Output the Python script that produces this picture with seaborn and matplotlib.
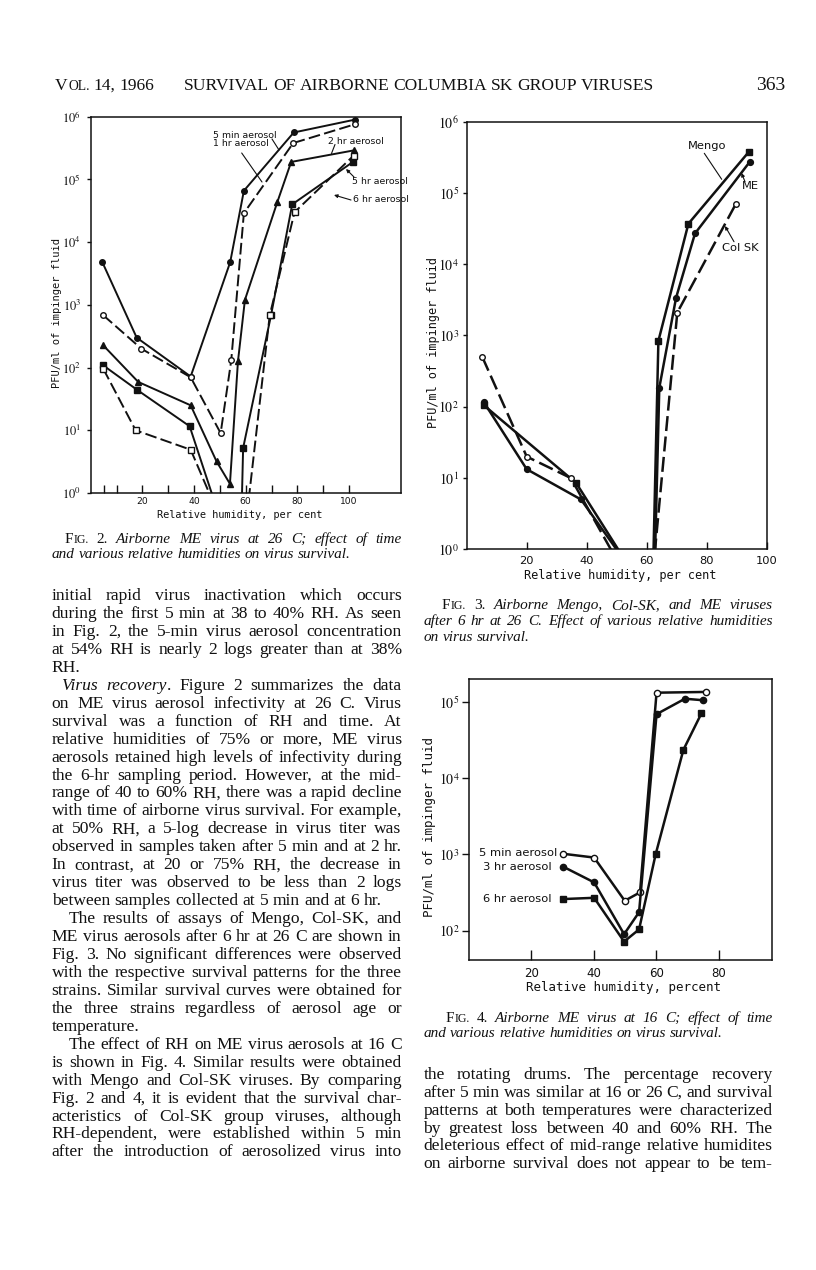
import matplotlib
matplotlib.use("Agg")
import matplotlib.pyplot as plt
import seaborn as sns
from matplotlib import font_manager
from matplotlib.font_manager import FontProperties
from matplotlib.ticker import FixedLocator, FixedFormatter, NullLocator

W, H = 816, 1270
INK = "#111111"

# ---------------- Fig. 2: ME virus at 26 C ----------------
fig2_rh_5min = [4.5, 17.8, 38.7, 54.0, 59.3, 78.6, 102.4]
fig2_pfu_5min = [4800, 300, 72, 4800, 66000, 5.6e5, 9.0e5]
fig2_rh_1hr = [4.9, 19.6, 38.7, 50.3, 54.4, 59.3, 78.4, 102.4]
fig2_pfu_1hr = [680, 200, 70, 9, 130, 29000, 3.8e5, 7.6e5]
fig2_rh_2hr = [4.9, 18.4, 38.7, 48.7, 53.9, 57.0, 59.7, 72.2, 77.6, 101.8]
fig2_pfu_2hr = [225, 59, 25, 3.2, 1.4, 125, 1200, 43000, 1.9e5, 2.9e5]
fig2_rh_5hr = [4.9, 18.0, 38.3, 50.0, 58.0, 59.0, 69.8, 78.0, 101.5]
fig2_pfu_5hr = [108, 44, 11.6, 0.4, 0.1, 5.2, 680, 40000, 1.9e5]
fig2_rh_6hr = [4.9, 17.4, 38.7, 50.0, 60.0, 69.3, 78.9, 101.8]
fig2_pfu_6hr = [95, 10, 4.9, 0.4, 0.3, 680, 30000, 2.4e5]
fig2_xticks = [5, 10, 20, 30, 40, 50, 60, 70, 80, 90, 100]
fig2_xticklabels = ["", "", "20", "", "40", "", "60", "", "80", "", "100"]

# ---------------- Fig. 3: Mengo, Col-SK, ME after 6 hr at 26 C ----------------
fig3_rh_mengo = [5.6, 36.5, 55.0, 62.0, 63.9, 73.9, 94.1]
fig3_pfu_mengo = [106, 8.5, 0.5, 0.3, 840, 37000, 3.8e5]
fig3_rh_me = [5.6, 20.0, 38.1, 55.0, 62.5, 64.2, 69.8, 76.1, 94.4]
fig3_pfu_me = [118, 13.3, 5.0, 0.5, 0.3, 185, 3400, 27000, 2.75e5]
fig3_rh_colsk = [5.2, 20.0, 34.7, 55.0, 62.0, 70.2, 89.7]
fig3_pfu_colsk = [500, 20, 10, 0.3, 0.44, 2100, 70000]
fig3_xticks = [20, 40, 60, 80, 100]

# ---------------- Fig. 4: ME virus at 16 C ----------------
fig4_rh_5min = [30.2, 40.1, 49.9, 54.8, 60.1, 75.8]
fig4_pfu_5min = [1020, 910, 247, 318, 1.32e5, 1.35e5]
fig4_rh_3hr = [30.2, 40.1, 49.7, 54.5, 60.1, 69.2, 75.1]
fig4_pfu_3hr = [690, 430, 90, 175, 69000, 1.1e5, 1.05e5]
fig4_rh_6hr = [30.2, 40.1, 49.7, 54.5, 59.8, 68.7, 74.5]
fig4_pfu_6hr = [260, 270, 72, 104, 1000, 23500, 71000]
fig4_xticks = [20, 40, 60, 80]

# ---------------- page text ----------------
header_left = "^^VOL. 14, 1966"
header_title = "SURVIVAL OF AIRBORNE COLUMBIA SK GROUP VIRUSES"
header_page = "363"

caption2 = ["^^FIG. ^2. Airborne ME virus at 26 C; effect of time",
            "and various relative humidities on virus survival."]
caption3 = ["^^FIG. ^3. Airborne Mengo, Col-SK, and ME viruses",
            "after 6 hr at 26 C. Effect of various relative humidities",
            "on virus survival."]
caption4 = ["^^FIG. ^4. Airborne ME virus at 16 C; effect of time",
            "and various relative humidities on virus survival."]

# (text, indent px, justified)
left_body = [
    ("initial rapid virus inactivation which occurs", 0, True),
    ("during the first 5 min at 38 to 40% RH. As seen", 0, True),
    ("in Fig. 2, the 5-min virus aerosol concentration", 0, True),
    ("at 54% RH is nearly 2 logs greater than at 38%", 0, True),
    ("RH.", 0, False),
    ("/Virus/ /recovery/. Figure 2 summarizes the data", 9, True),
    ("on ME virus aerosol infectivity at 26 C. Virus", 0, True),
    ("survival was a function of RH and time. At", 0, True),
    ("relative humidities of 75% or more, ME virus", 0, True),
    ("aerosols retained high levels of infectivity during", 0, True),
    ("the 6-hr sampling period. However, at the mid-", 0, True),
    ("range of 40 to 60% RH, there was a rapid decline", 0, True),
    ("with time of airborne virus survival. For example,", 0, True),
    ("at 50% RH, a 5-log decrease in virus titer was", 0, True),
    ("observed in samples taken after 5 min and at 2 hr.", 0, True),
    ("In contrast, at 20 or 75% RH, the decrease in", 0, True),
    ("virus titer was observed to be less than 2 logs", 0, True),
    ("between samples collected at 5 min and at 6 hr.", 0, False),
    ("The results of assays of Mengo, Col-SK, and", 17, True),
    ("ME virus aerosols after 6 hr at 26 C are shown in", 0, True),
    ("Fig. 3. No significant differences were observed", 0, True),
    ("with the respective survival patterns for the three", 0, True),
    ("strains. Similar survival curves were obtained for", 0, True),
    ("the three strains regardless of aerosol age or", 0, True),
    ("temperature.", 0, False),
    ("The effect of RH on ME virus aerosols at 16 C", 17, True),
    ("is shown in Fig. 4. Similar results were obtained", 0, True),
    ("with Mengo and Col-SK viruses. By comparing", 0, True),
    ("Fig. 2 and 4, it is evident that the survival char-", 0, True),
    ("acteristics of Col-SK group viruses, although", 0, True),
    ("RH-dependent, were established within 5 min", 0, True),
    ("after the introduction of aerosolized virus into", 0, True),
]
right_body = [
    ("the rotating drums. The percentage recovery", 0, True),
    ("after 5 min was similar at 16 or 26 C, and survival", 0, True),
    ("patterns at both temperatures were characterized", 0, True),
    ("by greatest loss between 40 and 60% RH. The", 0, True),
    ("deleterious effect of mid-range relative humidites", 0, True),
    ("on airborne survival does not appear to be tem-", 0, True),
]


def has_font(name):
    try:
        font_manager.findfont(FontProperties(family=name), fallback_to_default=False)
        return True
    except ValueError:
        return False


sns.set_theme(style="ticks")
plt.rcParams["font.family"] = ["DejaVu Sans"]
plt.rcParams["mathtext.fontset"] = "stix"
plt.rcParams["axes.linewidth"] = 1.1
plt.rcParams["axes.edgecolor"] = INK

if has_font("Liberation Sans Narrow"):
    NARROW, NSCALE = "Liberation Sans Narrow", 1.0
else:
    NARROW, NSCALE = "DejaVu Sans", 0.86
MONO = "DejaVu Sans Mono"
SERIF = "Liberation Serif"

fig = plt.figure(figsize=(W / 100, H / 100), dpi=100)
fig.patch.set_facecolor("white")


def axes_rect(left, top, right, bottom):
    return [left / W, 1 - bottom / H, (right - left) / W, (bottom - top) / H]


def series(ax, rh, pfu, marker, filled, dashed, lw, ms):
    sns.lineplot(x=rh, y=pfu, ax=ax, color=INK, marker=marker, markersize=ms,
                 markerfacecolor=INK if filled else "white", markeredgecolor=INK,
                 markeredgewidth=1.0, linewidth=lw, sort=False, estimator=None,
                 linestyle=(0, (6, 2.2)) if dashed else "-")


def style_axes(ax, box, xlim, ylim, xticks, xticklabels, decades, xfs, yfs,
               xlen, xpad, ylen, ypad, xlabel, xl_pos, xl_fs, ylabel, yl_pos, yl_fs):
    left, top, right, bottom = box
    ax.set_yscale("log")
    ax.set_xlim(*xlim)
    ax.set_ylim(*ylim)
    ax.xaxis.set_major_locator(FixedLocator(xticks))
    ax.xaxis.set_major_formatter(FixedFormatter(xticklabels))
    ax.yaxis.set_major_locator(FixedLocator([10.0 ** k for k in decades]))
    ax.yaxis.set_major_formatter(FixedFormatter([r"$10^{%d}$" % k for k in decades]))
    ax.yaxis.set_minor_locator(NullLocator())
    ax.xaxis.set_minor_locator(NullLocator())
    ax.tick_params(axis="x", direction="in", length=xlen, width=1.0, pad=xpad,
                   colors=INK, labelsize=xfs * NSCALE)
    ax.tick_params(axis="y", direction="out", length=ylen, width=1.0, pad=ypad,
                   colors=INK, labelsize=yfs)
    for lab in ax.get_xticklabels():
        lab.set_fontfamily(NARROW)
    for sp in ax.spines.values():
        sp.set_visible(True)
        sp.set_color(INK)
    ax.set_facecolor("white")
    ax.grid(False)
    ax.set_xlabel(xlabel, fontsize=xl_fs, fontfamily=MONO, color=INK, va="center")
    ax.xaxis.set_label_coords((xl_pos[0] - left) / (right - left),
                              (bottom - xl_pos[1]) / (bottom - top))
    ax.set_ylabel(ylabel, fontsize=yl_fs, fontfamily=MONO, color=INK, va="center", ha="center")
    ax.yaxis.set_label_coords((yl_pos[0] - left) / (right - left),
                              (bottom - yl_pos[1]) / (bottom - top))


def note(ax, text, x, y, fs, ha="left"):
    fig.text(x / W, 1 - y / H, text, fontsize=fs * NSCALE, fontfamily=NARROW,
             color=INK, ha=ha, va="center")


def leader(ax, start, tip, head=False):
    ax.annotate("", xy=(tip[0], H - tip[1]), xycoords="figure pixels",
                xytext=(start[0], H - start[1]), textcoords="figure pixels",
                arrowprops=dict(arrowstyle="-|>" if head else "-", mutation_scale=5,
                                lw=0.8, color=INK, shrinkA=0, shrinkB=0))


# ---------- Fig. 2 ----------
box2 = (90.7, 116.7, 400.7, 493.0)
ax2 = fig.add_axes(axes_rect(*box2))
series(ax2, fig2_rh_5min, fig2_pfu_5min, "o", True, False, 1.4, 4)
series(ax2, fig2_rh_1hr, fig2_pfu_1hr, "o", False, True, 1.4, 4)
series(ax2, fig2_rh_2hr, fig2_pfu_2hr, "^", True, False, 1.4, 4.5)
series(ax2, fig2_rh_5hr, fig2_pfu_5hr, "s", True, False, 1.4, 4)
series(ax2, fig2_rh_6hr, fig2_pfu_6hr, "s", False, True, 1.4, 4)
style_axes(ax2, box2, (0, 120), (1, 1e6), fig2_xticks, fig2_xticklabels, range(0, 7),
           7.6, 9, 6.0, 3.0, 3, 4.0,
           "Relative humidity, per cent", (240, 515), 7.4,
           "PFU/ml of impinger fluid", (56.7, 313), 7.5)
note(ax2, "5 min aerosol", 213, 135, 7.9)
note(ax2, "1 hr aerosol", 213, 143.7, 7.9)
note(ax2, "2 hr aerosol", 328, 141, 7.9)
note(ax2, "5 hr aerosol", 352, 181, 7.9)
note(ax2, "6 hr aerosol", 353, 200, 7.9)
leader(ax2, (272, 139), (279, 150))
leader(ax2, (241.7, 153), (262, 182))
leader(ax2, (335, 144.5), (331.5, 153.5))
leader(ax2, (354, 177), (346, 169), head=True)
leader(ax2, (351, 200), (334, 195), head=True)

# ---------- Fig. 3 ----------
box3 = (466.7, 121.7, 766.7, 549.3)
ax3 = fig.add_axes(axes_rect(*box3))
series(ax3, fig3_rh_mengo, fig3_pfu_mengo, "s", True, False, 1.8, 4)
series(ax3, fig3_rh_me, fig3_pfu_me, "o", True, False, 1.8, 4.2)
series(ax3, fig3_rh_colsk, fig3_pfu_colsk, "o", False, True, 1.8, 4)
style_axes(ax3, box3, (0, 100), (1, 1e6), fig3_xticks, [str(t) for t in fig3_xticks],
           range(0, 7), 9.6, 10, 5.0, 5.0, 3, 2.5,
           "Relative humidity, per cent", (620, 576), 8.6,
           "PFU/ml of impinger fluid", (433.3, 343), 8.5)
note(ax3, "Mengo", 688, 146, 9.6)
note(ax3, "ME", 742, 186, 9.6)
note(ax3, "Col SK", 722, 247.7, 9.6)
leader(ax3, (704.3, 153.3), (721.7, 179.3))
leader(ax3, (745, 181.7), (741.5, 173), head=True)
leader(ax3, (734, 241.7), (725, 226), head=True)

# ---------- Fig. 4 ----------
box4 = (469.0, 679.0, 771.7, 960.0)
ax4 = fig.add_axes(axes_rect(*box4))
series(ax4, fig4_rh_5min, fig4_pfu_5min, "o", False, False, 1.8, 4.5)
series(ax4, fig4_rh_3hr, fig4_pfu_3hr, "o", True, False, 1.8, 4.5)
series(ax4, fig4_rh_6hr, fig4_pfu_6hr, "s", True, False, 1.8, 4.5)
style_axes(ax4, box4, (0, 97), (10 ** 1.616, 10 ** 5.30), fig4_xticks,
           [str(t) for t in fig4_xticks], range(2, 6), 9.8, 10, 7.0, 5.0, 5, 2.0,
           "Relative humidity, percent", (624, 987.3), 9.0,
           "PFU/ml of impinger fluid", (430, 826.7), 9.0)
note(ax4, "5 min aerosol", 557.3, 853.3, 9.6, ha="right")
note(ax4, "3 hr aerosol", 483, 867.3, 9.6)
note(ax4, "6 hr aerosol", 483, 899.3, 9.6)

# ---------- running text ----------
rend = fig.canvas.get_renderer()


def text_width(s, prop):
    w, _, _ = rend.get_text_width_height_descent(s, prop, ismath=False)
    return w


def make_props(size):
    return {
        "roman": FontProperties(family=SERIF, size=size),
        "italic": FontProperties(family=SERIF, size=size, style="italic"),
        "sc": FontProperties(family=SERIF, size=size * 0.78),
    }


def parse_word(w, base):
    if w.startswith("^^"):
        return [(w[2], "roman"), (w[3:], "sc")]
    if w.startswith("^"):
        return [(w[1:], "roman")]
    if w.startswith("/"):
        core, _, tail = w[1:].partition("/")
        runs = [(core, "italic")]
        if tail:
            runs.append((tail, "roman"))
        return runs
    return [(w, base)]


def draw_line(line, x0, x1, base_y, props, style, indent, justify):
    words = [parse_word(w, style) for w in line.split()]
    widths = [sum(text_width(s, props[st]) for s, st in runs) for runs in words]
    start = x0 + indent
    if justify and len(words) > 1:
        gap = (x1 - start - sum(widths)) / (len(words) - 1)
    else:
        gap = 0.25 * props["roman"].get_size_in_points() * fig.dpi / 72
    x = start
    for runs, w in zip(words, widths):
        xx = x
        for s, st in runs:
            fig.text(xx / W, 1 - base_y / H, s, fontproperties=props[st],
                     ha="left", va="baseline", color=INK)
            xx += text_width(s, props[st]) + 0.5
        x += w + gap


def draw_caption(lines, x0, x1, first_base, step, indent, size):
    props = make_props(size)
    for i, line in enumerate(lines):
        last = i == len(lines) - 1
        draw_line(line, x0, x1, first_base + i * step, props, "italic",
                  indent if i == 0 else 0, not last)


body_props = make_props(12.6)
for i, (line, ind, just) in enumerate(left_body):
    draw_line(line, 51.7, 401.7, 600 + i * 17.95, body_props, "roman", ind, just)
for i, (line, ind, just) in enumerate(right_body):
    draw_line(line, 423.3, 772.7, 1079 + i * 17.86, body_props, "roman", ind, just)

draw_caption(caption2, 51.7, 401.7, 543.3, 15.0, 13.3, 11.0)
draw_caption(caption3, 423.3, 772.7, 609.0, 15.8, 18.4, 11.0)
draw_caption(caption4, 423.3, 772.7, 1022.3, 15.0, 22.7, 11.0)

head_props = make_props(12.6)
draw_line(header_left, 55, 146, 90, head_props, "roman", 0, False)
draw_line(header_title, 184, 654, 90, head_props, "roman", 0, True)
fig.text(785 / W, 1 - 90 / H, header_page, fontproperties=FontProperties(family=SERIF, size=14),
         ha="right", va="baseline", color=INK)

fig.savefig("out.png", dpi=100, facecolor="white")
